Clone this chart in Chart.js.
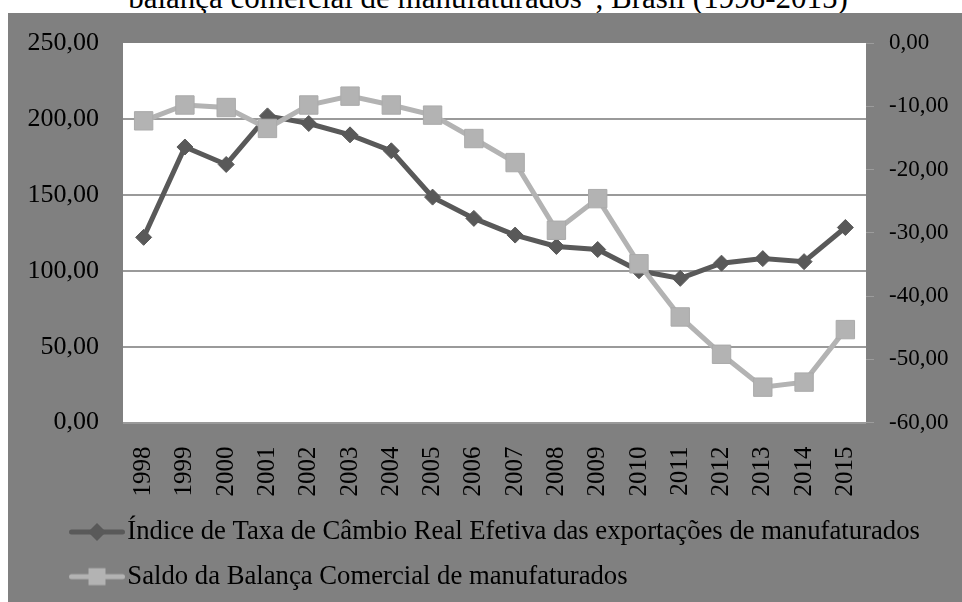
<!DOCTYPE html>
<html>
<head>
<meta charset="utf-8">
<script src="https://cdn.jsdelivr.net/npm/chart.js@4.4.1/dist/chart.umd.min.js"></script>
<style>
  html, body { margin: 0; padding: 0; background: #fff; overflow: hidden; width: 962px; height: 602px; }
  #titulo { position: absolute; left: 7px; top: -18px; width: 962px; text-align: center; font: 31px/31px "Liberation Serif", serif; white-space: nowrap; color: #000; }
  #caixa { position: absolute; left: 8px; top: 13px; width: 954px; height: 589px; background: #808080; }
</style>
</head>
<body>
<div id="titulo">balança comercial de manufaturados”, Brasil (1998-2015)</div>
<div id="caixa"><canvas id="myChart" width="954" height="589"></canvas></div>
<script>
const anos = ['1998', '1999', '2000', '2001', '2002', '2003', '2004', '2005', '2006',
  '2007', '2008', '2009', '2010', '2011', '2012', '2013', '2014', '2015'];
const indiceCambio = [122, 181.5, 170, 202, 197, 189.5, 179, 148.5, 134.5,
  123.5, 116, 114, 100, 95, 105, 108, 106, 128.5];
const saldoBalanca = [-12.3, -9.8, -10.2, -13.5, -9.8, -8.4, -9.8, -11.4, -15.1,
  -18.9, -29.6, -24.6, -34.9, -43.3, -49.2, -54.4, -53.6, -45.3];
const ticksEsquerda = [0, 50, 100, 150, 200, 250];
const ticksDireita = [-60, -50, -40, -30, -20, -10, 0];

const nomeIndice = 'Índice de Taxa de Câmbio Real Efetiva das exportações de manufaturados';
const nomeSaldo = 'Saldo da Balança Comercial de manufaturados';

const corEscura = '#595959';
const corClara = '#b3b3b3';
const fonte = '"Liberation Serif", "Times New Roman", serif';

Chart.defaults.font.family = fonte;
Chart.defaults.color = '#000';

const virgula = (v) => v.toFixed(2).replace('.', ',');

// amostra da legenda: linha com o marcador no meio
function amostra(cor, forma) {
  const c = document.createElement('canvas');
  c.width = 110;
  c.height = 24;
  const g = c.getContext('2d');
  g.strokeStyle = cor;
  g.fillStyle = cor;
  g.lineWidth = 5;
  g.lineCap = 'round';
  g.beginPath();
  g.moveTo(56.5, 12);
  g.lineTo(107.5, 12);
  g.stroke();
  g.beginPath();
  if (forma === 'rectRot') {
    g.moveTo(82, 3); g.lineTo(91, 12); g.lineTo(82, 21); g.lineTo(73, 12);
  } else {
    g.rect(73.5, 3.5, 17, 17);
  }
  g.fill();
  return c;
}

const fundoBranco = {
  id: 'fundoBranco',
  beforeDraw(chart) {
    const a = chart.chartArea;
    const ctx = chart.ctx;
    ctx.save();
    ctx.fillStyle = '#fff';
    ctx.fillRect(a.left, a.top, a.right - a.left, a.bottom - a.top);
    ctx.restore();
  }
};

const ctx = document.getElementById('myChart').getContext('2d');

const chart = new Chart(ctx, {
  type: 'line',
  data: {
    labels: anos,
    datasets: [{
      label: nomeIndice,
      data: indiceCambio,
      yAxisID: 'y',
      order: 2,
      borderColor: corEscura,
      backgroundColor: corEscura,
      borderWidth: 5,
      pointStyle: 'rectRot',
      pointRadius: 8,
      pointBorderWidth: 1,
      pointBackgroundColor: corEscura,
      pointBorderColor: corEscura,
      tension: 0,
    }, {
      label: nomeSaldo,
      data: saldoBalanca,
      yAxisID: 'y1',
      order: 1,
      borderColor: corClara,
      backgroundColor: corClara,
      borderWidth: 5,
      pointStyle: 'rect',
      pointRadius: 13,
      pointBorderWidth: 1,
      pointBackgroundColor: corClara,
      pointBorderColor: '#aaaaaa',
      tension: 0,
    }],
  },
  options: {
    responsive: false,
    animation: false,
    layout: { padding: { left: 0, right: 0, top: 30, bottom: 2 } },
    plugins: {
      tooltip: { enabled: false },
      legend: {
        position: 'bottom',
        align: 'start',
        labels: {
          usePointStyle: true,
          pointStyleWidth: 88,
          padding: 18,
          font: { family: fonte, size: 26.7 },
          color: '#000',
          sort: (a, b) => a.datasetIndex - b.datasetIndex,
          generateLabels(chart) {
            const itens = Chart.defaults.plugins.legend.labels.generateLabels(chart);
            itens.forEach((it) => {
              it.pointStyle = it.datasetIndex === 0
                ? amostra(corEscura, 'rectRot')
                : amostra(corClara, 'rect');
            });
            return itens;
          },
        },
      },
    },
    scales: {
      x: {
        offset: true,
        grid: { display: false },
        border: { display: false },
        ticks: {
          autoSkip: false,
          minRotation: 90,
          maxRotation: 90,
          padding: 16,
          font: { family: fonte, size: 25 },
          color: '#000',
        },
        afterFit(s) { s.height = 78; },
      },
      y: {
        position: 'left',
        min: ticksEsquerda[0],
        max: ticksEsquerda[ticksEsquerda.length - 1],
        border: { display: false },
        grid: {
          drawTicks: true,
          tickLength: 24,
          tickColor: 'rgba(0,0,0,0)',
          lineWidth: 2,
          color: (c) => (c.tick && c.tick.value === 250 ? 'rgba(0,0,0,0)' : '#9a9a9a'),
        },
        ticks: {
          stepSize: ticksEsquerda[1] - ticksEsquerda[0],
          padding: 0,
          font: { family: fonte, size: 26 },
          color: '#000',
          callback: (v) => virgula(v),
        },
        afterFit(s) { s.width = 115; },
      },
      y1: {
        position: 'right',
        min: ticksDireita[0],
        max: ticksDireita[ticksDireita.length - 1],
        border: { display: false },
        grid: {
          drawOnChartArea: false,
          drawTicks: true,
          tickLength: 8,
          lineWidth: 1,
          color: '#9c9c9c',
        },
        ticks: {
          stepSize: ticksDireita[1] - ticksDireita[0],
          padding: 15,
          font: { family: fonte, size: 23 },
          color: '#000',
          callback: (v) => virgula(v),
        },
        afterFit(s) { s.width = 96; },
      },
    },
  },
  plugins: [fundoBranco],
});
</script>
</body>
</html>
